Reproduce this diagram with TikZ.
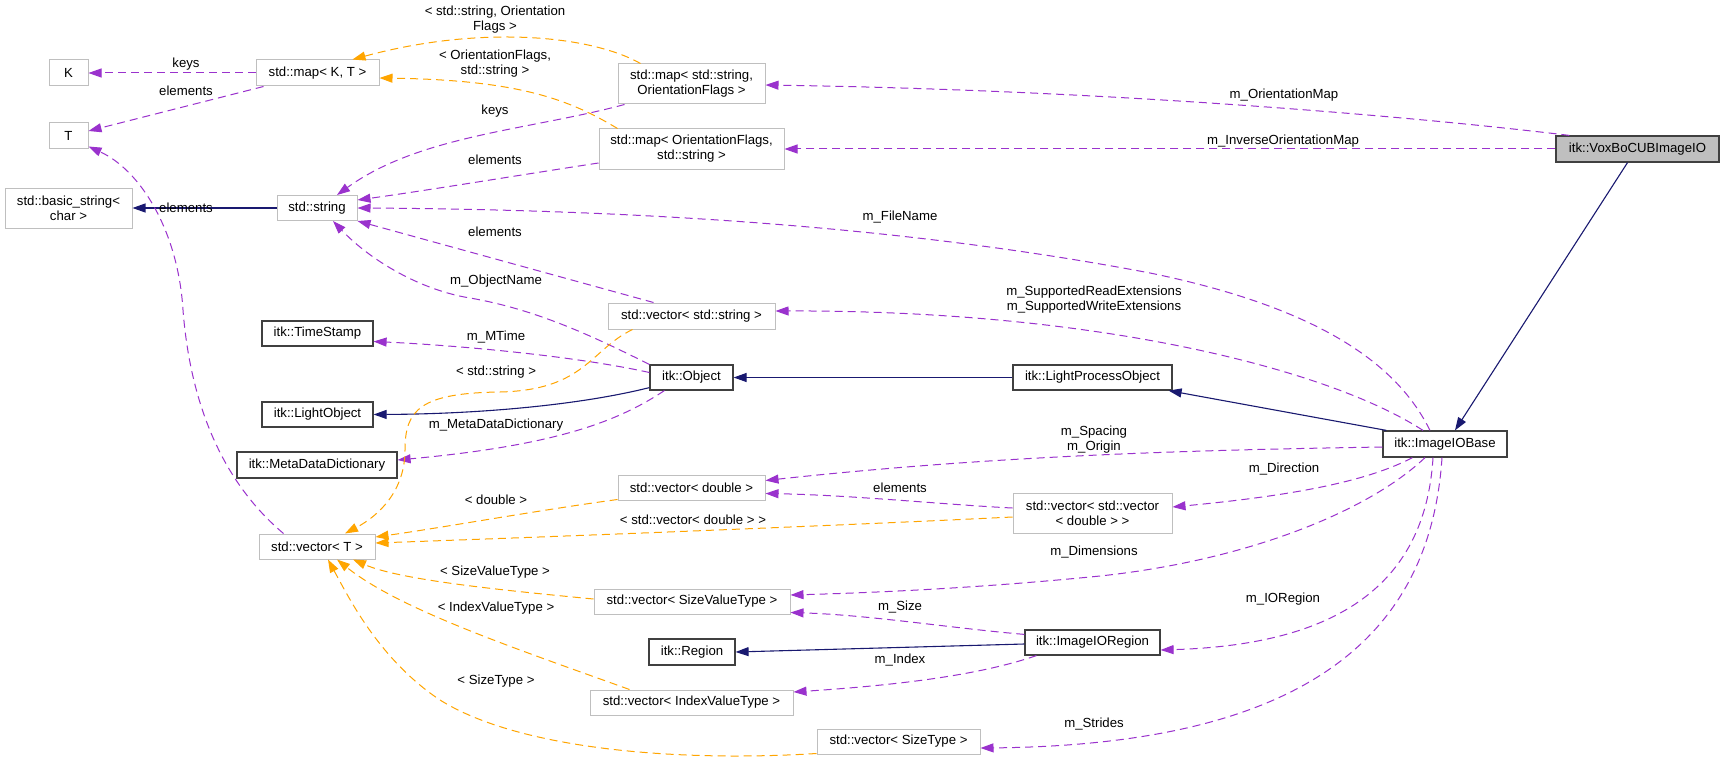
\documentclass[tikz,border=0pt]{standalone}
\usepackage{fontspec}
\setmainfont{Liberation Sans}
\usetikzlibrary{arrows.meta}
\definecolor{edgepurple}{HTML}{9A32CD}
\definecolor{edgeorange}{HTML}{FFA500}
\definecolor{edgenavy}{HTML}{191970}
\definecolor{lightborder}{HTML}{BFBFBF}
\definecolor{darkborder}{HTML}{404040}
\definecolor{focusfill}{HTML}{BFBFBF}
\newcommand{\dgfont}{\fontsize{13.2pt}{15pt}\selectfont}
\tikzset{
  ext/.style={draw=lightborder, line width=1pt, fill=white, inner sep=0pt, align=center, font=\dgfont},
  docbox/.style={ext, draw=darkborder, line width=1.2pt},
  focusbox/.style={docbox, fill=focusfill},
  lbl/.style={inner sep=0pt, align=center, font=\dgfont},
  tip/.style={-{Triangle[length=13pt,width=9pt]}},
  usage/.style={tip, draw=edgepurple, line width=1pt, dash pattern=on 8pt off 5pt},
  tmpl/.style={tip, draw=edgeorange, line width=1pt, dash pattern=on 8pt off 5pt},
  inherit/.style={tip, draw=edgenavy, line width=1.1pt},
}
\begin{document}
\begin{tikzpicture}[x=1pt,y=-1pt]
\fill[white] (0,0) rectangle (1724,765);
\useasboundingbox (0,0) rectangle (1724,765);

% nodes
\node[ext, minimum width=39pt, minimum height=26pt] (K) at (68.5,73) {K};
\node[ext, minimum width=123pt, minimum height=26pt] (mapKT) at (317.5,73) {std::map< K, T >};
\node[ext, minimum width=39pt, minimum height=26pt] (T) at (68.5,136) {T};
\node[ext, minimum width=127pt, minimum height=40pt] (bstr) at (68.5,208) {std::basic\_string<\\char >};
\node[ext, minimum width=80pt, minimum height=25pt] (str) at (317,208) {std::string};
\node[ext, minimum width=147pt, minimum height=40pt] (mapSO) at (691.5,84) {std::map< std::string,\\OrientationFlags >};
\node[ext, minimum width=185pt, minimum height=40pt] (mapOS) at (691.5,149) {std::map< OrientationFlags,\\std::string >};
\node[focusbox, minimum width=163pt, minimum height=26pt] (vox) at (1637.5,149) {itk::VoxBoCUBImageIO};
\node[ext, minimum width=167pt, minimum height=26pt] (vecstr) at (691.5,316) {std::vector< std::string >};
\node[docbox, minimum width=111pt, minimum height=25pt] (ts) at (317.5,333.5) {itk::TimeStamp};
\node[docbox, minimum width=83pt, minimum height=25pt] (obj) at (691.5,377.5) {itk::Object};
\node[docbox, minimum width=159pt, minimum height=25pt] (lpo) at (1092.5,377.5) {itk::LightProcessObject};
\node[docbox, minimum width=111pt, minimum height=25pt] (lo) at (317.5,414.5) {itk::LightObject};
\node[docbox, minimum width=160pt, minimum height=26pt] (mdd) at (317,465) {itk::MetaDataDictionary};
\node[docbox, minimum width=124pt, minimum height=26pt] (iob) at (1445,444) {itk::ImageIOBase};
\node[ext, minimum width=147pt, minimum height=25pt] (vecd) at (691.5,487.5) {std::vector< double >};
\node[ext, minimum width=159pt, minimum height=40pt] (vvd) at (1092.5,513) {std::vector< std::vector\\< double > >};
\node[ext, minimum width=116pt, minimum height=25pt] (vecT) at (317,546.5) {std::vector< T >};
\node[ext, minimum width=196pt, minimum height=25pt] (vsvt) at (692,601.5) {std::vector< SizeValueType >};
\node[docbox, minimum width=135pt, minimum height=25pt] (ior) at (1092.5,642.5) {itk::ImageIORegion};
\node[docbox, minimum width=86pt, minimum height=26pt] (reg) at (692,652) {itk::Region};
\node[ext, minimum width=203pt, minimum height=25pt] (vivt) at (691.5,702.5) {std::vector< IndexValueType >};
\node[ext, minimum width=163pt, minimum height=25pt] (vst) at (898.5,741.5) {std::vector< SizeType >};

% edges
\draw[usage] (mapKT.west) -- (K.east);
\draw[usage] ([xshift=8pt]mapKT.south west) -- ([yshift=5pt]T.east);
\draw[inherit] (str.west) -- (bstr.east);
\draw[usage] ([xshift=25pt]vecT.north west) .. controls (220,480) and (190,400) .. (183,310)
   .. controls (178,230) and (140,170) .. ([yshift=3pt]T.south east);
\draw[usage] ([xshift=7pt]mapSO.south west) .. controls (530,130) and (420,135) .. ([xshift=20pt]str.north);
\draw[usage] ([yshift=-14pt]mapOS.west) .. controls (520,175) and (430,190) .. ([yshift=8pt]str.east);
\draw[usage] ([xshift=-15pt]iob.north) .. controls (1400,370) and (1330,310) .. (1150,273)
   .. controls (950,235) and (700,210) .. (str.east);
\draw[usage] ([xshift=-38pt]vecstr.north) -- (str.south east);
\draw[usage] (obj.north west) .. controls (600,340) and (540,310) .. (470,298)
   .. controls (420,290) and (370,260) .. ([xshift=16pt]str.south);
\draw[tmpl] ([xshift=-51pt]mapSO.north) .. controls (590,35) and (480,25) .. ([xshift=35pt]mapKT.north);
\draw[tmpl] ([xshift=-74pt]mapOS.north) .. controls (570,100) and (520,80) .. ([yshift=-5pt]mapKT.east);
\draw[usage] ([xshift=14pt]vox.north west) .. controls (1400,115) and (1100,90) .. ([yshift=-1pt]mapSO.east);
\draw[usage] (vox.west) -- (mapOS.east);
\draw[inherit] ([xshift=-10pt]vox.south) -- ([xshift=10pt]iob.north);
\draw[usage] ([xshift=-22pt]iob.north) .. controls (1330,370) and (1100,310) .. ([yshift=5pt]vecstr.east);
\draw[usage] ([yshift=5pt]obj.west) .. controls (570,355) and (450,345) .. ([yshift=-8pt]ts.east);
\draw[inherit] ([yshift=3pt]obj.south west) .. controls (580,405) and (480,414) .. (lo.east);
\draw[usage] ([xshift=15pt]obj.south west) .. controls (620,420) and (560,445) .. ([yshift=5pt]mdd.east);
\draw[inherit] (lpo.west) -- (obj.east);
\draw[inherit] ([xshift=4pt]iob.north west) -- ([xshift=-4pt]lpo.south east);
\draw[tmpl] ([xshift=25pt]vecstr.south west) .. controls (590,350) and (585,390) .. (500,392)
   .. controls (420,393) and (405,410) .. (405,450)
   .. controls (405,490) and (380,515) .. ([xshift=28pt]vecT.north);
\draw[usage] ([yshift=-3pt]iob.west) .. controls (1200,450) and (1000,455) .. ([yshift=7pt]vecd.east);
\draw[usage] ([yshift=5pt]vvd.west) .. controls (950,505) and (850,495) .. ([yshift=-6pt]vecd.east);
\draw[usage] ([xshift=30pt]iob.south west) .. controls (1370,480) and (1300,495) .. ([yshift=6pt]vvd.east);
\draw[tmpl] ([yshift=1pt]vecd.south west) .. controls (540,510) and (440,528) .. ([yshift=9.5pt]vecT.east);
\draw[tmpl] ([yshift=-4pt]vvd.west) .. controls (850,525) and (600,535) .. ([yshift=3.5pt]vecT.east);
\draw[tmpl] ([yshift=2.5pt]vsvt.west) .. controls (500,590) and (400,580) .. ([xshift=36pt]vecT.south);
\draw[tmpl] ([xshift=40pt]vivt.north west) .. controls (520,650) and (400,610) .. ([xshift=20pt]vecT.south);
\draw[tmpl] ([yshift=1pt]vst.south west) .. controls (680,762) and (520,750) .. (440,700)
   .. controls (380,660) and (350,600) .. ([xshift=11pt]vecT.south);
\draw[usage] ([xshift=-20pt]iob.south) .. controls (1370,510) and (1250,560) .. (1100,576)
   .. controls (1000,586) and (900,592) .. ([yshift=6.5pt]vsvt.east);
\draw[usage] ([yshift=-5pt]ior.north west) .. controls (950,628) and (870,615) .. ([yshift=-11pt]vsvt.east);
\draw[inherit] ([yshift=-1.5pt]ior.west) -- (reg.east);
\draw[usage] ([xshift=12pt]ior.south west) .. controls (980,675) and (900,685) .. ([yshift=10.5pt]vivt.east);
\draw[usage] ([xshift=-12pt]iob.south) .. controls (1425,590) and (1330,645) .. ([yshift=-7.5pt]ior.east);
\draw[usage] ([xshift=-3pt]iob.south) .. controls (1430,640) and (1300,745) .. ([yshift=-6.5pt]vst.east);

% labels
\node[lbl] (l1) at (186,64) {keys};
\node[lbl] (l2) at (186,91) {elements};
\node[lbl] (l3) at (186,208) {elements};
\node[lbl] (l4) at (495,19.5) {< std::string, Orientation\\Flags >};
\node[lbl] (l5) at (495,64) {< OrientationFlags,\\std::string >};
\node[lbl] (l6) at (495,111) {keys};
\node[lbl] (l7) at (495,160) {elements};
\node[lbl] (l8) at (495,232) {elements};
\node[lbl] (l9) at (1284,95) {m\_OrientationMap};
\node[lbl] (l10) at (1283,141) {m\_InverseOrientationMap};
\node[lbl] (l11) at (900,217) {m\_FileName};
\node[lbl] (l12) at (496,281) {m\_ObjectName};
\node[lbl] (l13) at (1094,300) {m\_SupportedReadExtensions\\m\_SupportedWriteExtensions};
\node[lbl] (l14) at (496,337) {m\_MTime};
\node[lbl] (l15) at (496,372) {< std::string >};
\node[lbl] (l16) at (496,425) {m\_MetaDataDictionary};
\node[lbl] (l17) at (1094,439.5) {m\_Spacing\\m\_Origin};
\node[lbl] (l18) at (1284,469) {m\_Direction};
\node[lbl] (l19) at (900,488) {elements};
\node[lbl] (l20) at (496,500) {< double >};
\node[lbl] (l21) at (693,520) {< std::vector< double > >};
\node[lbl] (l22) at (1094,552) {m\_Dimensions};
\node[lbl] (l23) at (495,572) {< SizeValueType >};
\node[lbl] (l24) at (900,607) {m\_Size};
\node[lbl] (l25) at (496,608) {< IndexValueType >};
\node[lbl] (l26) at (1283,599) {m\_IORegion};
\node[lbl] (l27) at (900,660) {m\_Index};
\node[lbl] (l28) at (496,681) {< SizeType >};
\node[lbl] (l29) at (1094,724) {m\_Strides};
\end{tikzpicture}
\end{document}
